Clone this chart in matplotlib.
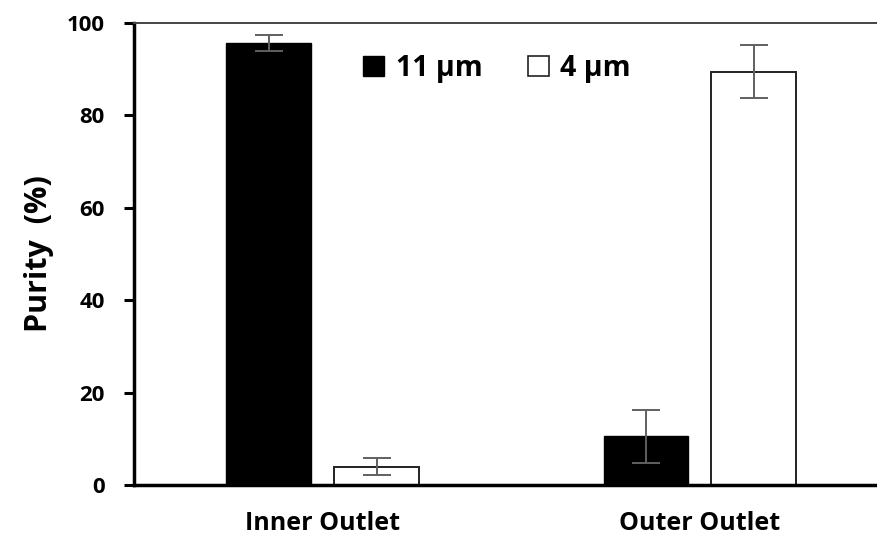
import matplotlib
matplotlib.use("Agg")
import matplotlib.pyplot as plt
import numpy as np
from matplotlib.patches import Patch

categories = ["Inner Outlet", "Outer Outlet"]
series_names = ["11 µm", "4 µm"]
vals_11 = [95.7, 10.5]
err_11 = [1.8, 5.7]
vals_4 = [4.0, 89.5]
err_4 = [1.8, 5.8]
yticks = [0, 20, 40, 60, 80, 100]

plt.rcParams['font.family'] = ['Open Sans', 'DejaVu Sans']

fig = plt.figure(figsize=(8.78, 5.37), dpi=100)
ax = fig.add_axes([134/878, 1 - 485/537, (878-134)/878, (485-23)/537])

x = np.arange(len(categories))
w = 0.225
off = 0.143
ekw = dict(ecolor='#606060', elinewidth=1.4, capsize=10, capthick=1.4)
ax.bar(x - off, vals_11, w, color='black', edgecolor='black', linewidth=1,
       yerr=err_11, error_kw=ekw, zorder=2)
ax.bar(x + off, vals_4, w, color='white', edgecolor='#222222', linewidth=1.4,
       yerr=err_4, error_kw=ekw, zorder=2)

ax.set_xlim(-0.5, 1.472)
ax.set_ylim(0, 100)
ax.set_yticks(yticks)
ax.set_yticklabels([str(t) for t in yticks], fontsize=16, fontweight='bold')
ax.set_xticks(x)
ax.set_xticklabels(categories, fontsize=18, fontweight='bold')
ax.tick_params(axis='x', length=0, pad=19)
ax.tick_params(axis='y', length=7.2, width=2.2, direction='out', pad=14)
ax.set_ylabel("Purity  (%)", fontsize=22, fontweight='bold', labelpad=9)

for s in ['left', 'bottom']:
    ax.spines[s].set_linewidth(2.5)
    ax.spines[s].set_color('black')
ax.spines['top'].set_linewidth(1.4)
ax.spines['top'].set_color('#444444')
ax.spines['right'].set_visible(False)

handles = [Patch(facecolor='black', edgecolor='black', label=series_names[0]),
           Patch(facecolor='white', edgecolor='#222222', linewidth=1.2, label=series_names[1])]
ax.legend(handles=handles, loc='center left', bbox_to_anchor=(0.289, 0.9015), ncol=2,
          frameon=False, prop={'size': 20.5, 'weight': 'bold'}, borderpad=0,
          handlelength=0.72, handleheight=0.72, handletextpad=0.42, columnspacing=1.6)

fig.savefig("out.png", dpi=100)
